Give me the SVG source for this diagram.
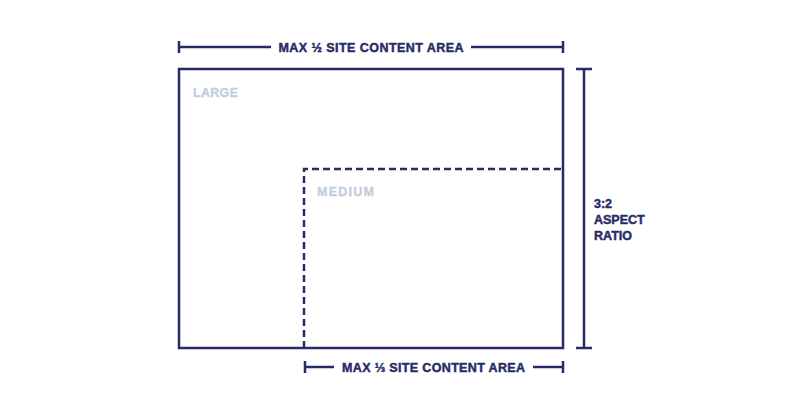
<svg xmlns="http://www.w3.org/2000/svg" width="800" height="400" viewBox="0 0 800 400">
<style>
.ln{stroke:#272c68;stroke-width:2.5;fill:none}
.dash{stroke:#272c68;stroke-width:2.5;fill:none;stroke-dasharray:7 4}
.lbl{font-family:"Liberation Sans",Arial,sans-serif;font-weight:bold;font-size:12.5px;fill:#272c68;stroke:#272c68;stroke-width:0.45}
.ghost{font-family:"Liberation Sans",Arial,sans-serif;font-weight:bold;font-size:12.5px;fill:#c3cedb;stroke:#c3cedb;stroke-width:0.35}
</style>
<rect width="800" height="400" fill="#ffffff"/>
<g id="large">
<rect x="179" y="69" width="384" height="279" fill="#f2f8fd" class="ln"/>
<text x="193" y="97" class="ghost" textLength="45">LARGE</text>
</g>
<g id="medium">
<path d="M304 348 V169 H563" class="dash"/>
<text x="317" y="196" class="ghost" textLength="57">MEDIUM</text>
</g>
<g id="connectors">
<path d="M179 47 H271 M471 47 H563 M179 41 V53 M563 41 V53" class="ln"/>
<path d="M305 367 H334 M533 367 H563 M305 361 V373 M563 361 V373" class="ln"/>
<path d="M584 69 V348 M576 69 H592 M576 348 H592" class="ln"/>
</g>
<g id="labels">
<text x="371" y="52" class="lbl" text-anchor="middle" textLength="185">MAX ½ SITE CONTENT AREA</text>
<text x="433.5" y="372" class="lbl" text-anchor="middle" textLength="183">MAX ⅓ SITE CONTENT AREA</text>
<text x="594" y="208" class="lbl">3:2</text>
<text x="594" y="224" class="lbl">ASPECT</text>
<text x="594" y="240" class="lbl">RATIO</text>
</g>
</svg>
